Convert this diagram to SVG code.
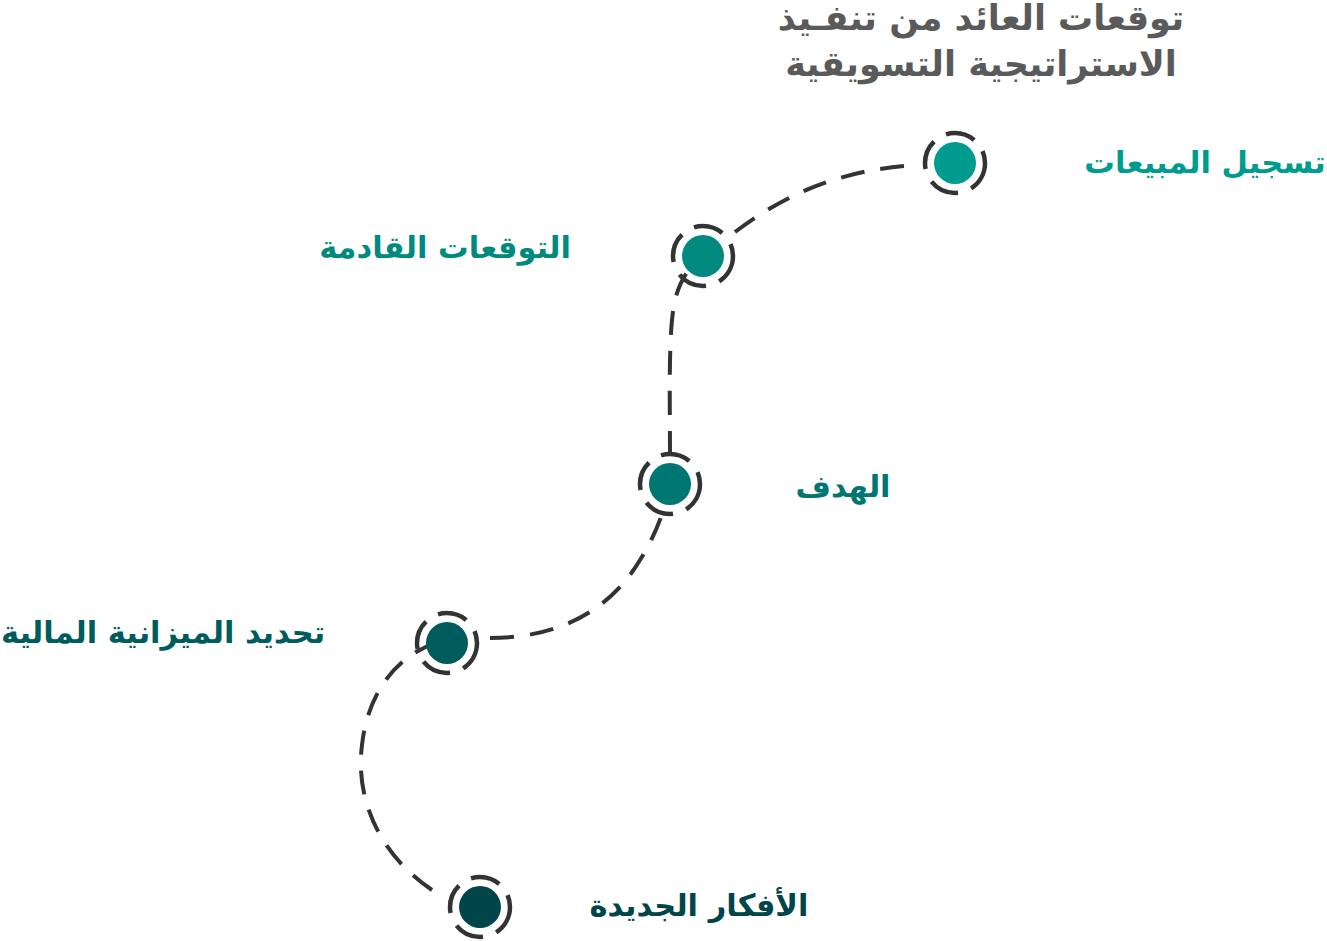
<svg xmlns="http://www.w3.org/2000/svg" width="1327" height="941" viewBox="0 0 1327 941">
<style>
.conn{fill:none;stroke:#333333;stroke-width:4;stroke-dasharray:24 16;}
.ring{fill:none;stroke:#333333;stroke-width:4.5;stroke-dasharray:30 14;}
.lbl{font-family:"DejaVu Sans",sans-serif;font-weight:bold;font-size:30.5px;text-anchor:middle;}
.title{font-family:"DejaVu Sans",sans-serif;font-weight:bold;font-size:35px;text-anchor:middle;fill:#5a5a5a;}
</style>
<rect width="1327" height="941" fill="#ffffff"/>
<g id="connectors">
<path class="conn" d="M432,890 C380,855 355,800 362,745 C368,690 400,650 447,640"/>
<path class="conn" d="M490,638 C560,638 610,610 640,560 C665,520 668,490 670,484"/>
<path class="conn" d="M670,455 C670,400 668,330 675,300 C680,280 690,265 703,256"/>
<path class="conn" d="M735,232 C790,190 850,168 920,165"/>
</g>
<g id="title"><text class="title" x="981" y="30">توقعات العائد من تنفـيذ</text><text class="title" x="981" y="76">الاستراتيجية التسويقية</text></g>
<g id="node1"><circle cx="955" cy="163" r="30" class="ring"/><circle cx="955" cy="163" r="21" fill="#009b8f"/><text class="lbl" x="1205" y="173" fill="#009b8f">تسجيل المبيعات</text></g>
<g id="node2"><circle cx="703" cy="256" r="30" class="ring"/><circle cx="703" cy="256" r="21" fill="#00897f"/><text class="lbl" x="445" y="258" fill="#00897f">التوقعات القادمة</text></g>
<g id="node3"><circle cx="670" cy="484" r="30" class="ring"/><circle cx="670" cy="484" r="21" fill="#007672"/><text class="lbl" x="843" y="497" fill="#007672">الهدف</text></g>
<g id="node4"><circle cx="447" cy="643" r="30" class="ring"/><circle cx="447" cy="643" r="21" fill="#005c5c"/><text class="lbl" x="163" y="643" fill="#005c5c">تحديد الميزانية المالية</text></g>
<g id="node5"><circle cx="480" cy="907" r="30" class="ring"/><circle cx="480" cy="907" r="21" fill="#00454a"/><text class="lbl" x="699" y="916" fill="#00454a">الأفكار الجديدة</text></g>
</svg>
